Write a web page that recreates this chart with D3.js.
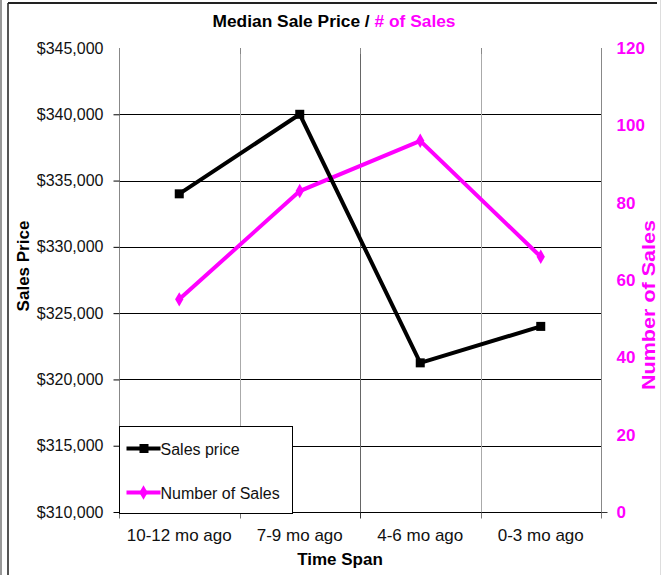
<!DOCTYPE html>
<html>
<head>
<meta charset="utf-8">
<script src="https://cdn.jsdelivr.net/npm/d3@7"></script>
<style>
  body { margin: 0; background: #fff; }
  svg { display: block; font-family: "Liberation Sans", Arial, sans-serif; }
</style>
</head>
<body>
<script>
const categories = ['10-12 mo ago', '7-9 mo ago', '4-6 mo ago', '0-3 mo ago'];
const salesPrice = [334000, 340000, 321250, 324000];
const numberOfSales = [55, 83, 96, 66];
const priceTicks = [310000, 315000, 320000, 325000, 330000, 335000, 340000, 345000];
const countTicks = [0, 20, 40, 60, 80, 100, 120];

const width = 662, height = 575;
const magenta = '#ff00ff';
const plot = { left: 119, right: 601, top: 48, bottom: 512 };

const svg = d3.select('body').append('svg')
  .attr('width', width)
  .attr('height', height);

// outer frame
svg.append('rect').attr('x', 0).attr('y', 0).attr('width', 2).attr('height', height).attr('fill', '#999');
svg.append('line').attr('x1', 8).attr('x2', 8).attr('y1', 3).attr('y2', height)
  .attr('stroke', '#555').attr('stroke-width', 2);
svg.append('line').attr('x1', 8).attr('x2', 657).attr('y1', 3).attr('y2', 3)
  .attr('stroke', '#222').attr('stroke-width', 2);
svg.append('line').attr('x1', 660.5).attr('x2', 660.5).attr('y1', 0).attr('y2', height)
  .attr('stroke', '#ddd').attr('stroke-width', 1);

const x = d3.scaleBand()
  .domain(categories)
  .range([plot.left, plot.right]);

const yPrice = d3.scaleLinear()
  .domain([310000, 345000])
  .range([plot.bottom, plot.top]);

const yCount = d3.scaleLinear()
  .domain([0, 120])
  .range([plot.bottom, plot.top]);

const xMid = d => x(d) + x.bandwidth() / 2;

// horizontal gridlines
svg.append('g')
  .selectAll('line')
  .data(priceTicks.filter(t => t > 310000 && t < 345000))
  .join('line')
  .attr('x1', plot.left).attr('x2', plot.right)
  .attr('y1', d => Math.round(yPrice(d)) + 0.5)
  .attr('y2', d => Math.round(yPrice(d)) + 0.5)
  .attr('stroke', '#000')
  .attr('stroke-width', 1);

// vertical gridlines between categories
svg.append('g')
  .selectAll('line')
  .data(categories.slice(1))
  .join('line')
  .attr('x1', d => Math.round(x(d)) + 0.5)
  .attr('x2', d => Math.round(x(d)) + 0.5)
  .attr('y1', plot.top).attr('y2', plot.bottom)
  .attr('stroke', (d, i) => i === 1 ? '#666' : '#aaa')
  .attr('stroke-width', 1);

// top ticks at category boundaries
svg.append('g')
  .selectAll('line')
  .data(categories.map(c => x(c)).concat([plot.right]))
  .join('line')
  .attr('x1', d => Math.round(d) + 0.5)
  .attr('x2', d => Math.round(d) + 0.5)
  .attr('y1', plot.top).attr('y2', plot.top + 6)
  .attr('stroke', '#888');

// left axis
const leftAxis = svg.append('g')
  .attr('transform', `translate(${plot.left + 0.5},0)`)
  .call(d3.axisLeft(yPrice)
    .tickValues(priceTicks)
    .tickSize(6)
    .tickPadding(10)
    .tickFormat(d => '$' + d3.format(',')(d)));
leftAxis.select('.domain').attr('stroke', '#888').attr('d', `M0,${plot.top}V${plot.bottom}`);
leftAxis.selectAll('.tick line').attr('stroke', '#000');
leftAxis.selectAll('.tick').filter(d => d === 345000).select('line').remove();
leftAxis.selectAll('text')
  .attr('font-size', 16)
  .attr('font-family', '"Liberation Sans", Arial, sans-serif')
  .attr('fill', '#111');

// right axis
const rightAxis = svg.append('g')
  .attr('transform', `translate(${plot.right + 0.5},0)`)
  .call(d3.axisRight(yCount)
    .tickValues(countTicks)
    .tickSize(0)
    .tickPadding(15));
rightAxis.select('.domain').attr('stroke', '#888').attr('d', `M0,${plot.top}V${plot.bottom + 4}`);
rightAxis.selectAll('text')
  .attr('font-size', 17)
  .attr('font-weight', 'bold')
  .attr('font-family', '"Liberation Sans", Arial, sans-serif')
  .attr('fill', magenta);
rightAxis.append('line')
  .attr('x1', -6).attr('x2', 6)
  .attr('y1', Math.round(yCount(0)) + 0.5).attr('y2', Math.round(yCount(0)) + 0.5)
  .attr('stroke', '#333');

// bottom axis
const bottomAxis = svg.append('g')
  .attr('transform', `translate(0,${plot.bottom + 0.5})`)
  .call(d3.axisBottom(x).tickSize(0).tickPadding(16));
bottomAxis.select('.domain').attr('stroke', '#000').attr('d', `M${plot.left},0H${plot.right}`);
bottomAxis.selectAll('text')
  .attr('font-size', 17)
  .attr('font-family', '"Liberation Sans", Arial, sans-serif')
  .attr('fill', '#111');
bottomAxis.append('g')
  .selectAll('line')
  .data(categories.map(c => x(c)).concat([plot.right]))
  .join('line')
  .attr('x1', d => Math.round(d) + 0.5)
  .attr('x2', d => Math.round(d) + 0.5)
  .attr('y1', 0).attr('y2', 6)
  .attr('stroke', (d, i) => i === 2 ? '#333' : '#777');

// series lines
const priceLine = d3.line()
  .x((d, i) => xMid(categories[i]))
  .y(d => yPrice(d));

const countLine = d3.line()
  .x((d, i) => xMid(categories[i]))
  .y(d => yCount(d));

svg.append('path')
  .datum(numberOfSales)
  .attr('d', countLine)
  .attr('fill', 'none')
  .attr('stroke', magenta)
  .attr('stroke-width', 4);

svg.append('g')
  .selectAll('path')
  .data(numberOfSales)
  .join('path')
  .attr('d', d3.symbol(d3.symbolDiamond, 60))
  .attr('transform', (d, i) => `translate(${xMid(categories[i])},${yCount(d)})`)
  .attr('fill', magenta);

svg.append('path')
  .datum(salesPrice)
  .attr('d', priceLine)
  .attr('fill', 'none')
  .attr('stroke', '#000')
  .attr('stroke-width', 4);

svg.append('g')
  .selectAll('rect')
  .data(salesPrice)
  .join('rect')
  .attr('x', (d, i) => xMid(categories[i]) - 4.5)
  .attr('y', d => yPrice(d) - 4.5)
  .attr('width', 9)
  .attr('height', 9)
  .attr('fill', '#000');

// legend
const legend = svg.append('g').attr('transform', 'translate(119.5,426.5)');
legend.append('rect')
  .attr('width', 173).attr('height', 87)
  .attr('fill', '#fff').attr('stroke', '#000');

const legendItems = [
  { label: 'Sales price', color: '#000', y: 22, marker: 'square' },
  { label: 'Number of Sales', color: magenta, y: 66, marker: 'diamond' }
];
legendItems.forEach(item => {
  const g = legend.append('g').attr('transform', `translate(0,${item.y})`);
  g.append('line')
    .attr('x1', 7).attr('x2', 41)
    .attr('stroke', item.color).attr('stroke-width', 4);
  if (item.marker === 'square') {
    g.append('rect').attr('x', 20).attr('y', -4.5).attr('width', 9).attr('height', 9).attr('fill', item.color);
  } else {
    g.append('path').attr('d', d3.symbol(d3.symbolDiamond, 60)).attr('transform', 'translate(24,0)').attr('fill', item.color);
  }
  g.append('text')
    .attr('x', 41).attr('y', 6)
    .attr('font-size', 16)
    .attr('fill', '#111')
    .text(item.label);
});

// titles
const title = svg.append('text')
  .attr('x', 334).attr('y', 27)
  .attr('text-anchor', 'middle')
  .attr('font-size', 16)
  .attr('font-weight', 'bold')
  .attr('textLength', 243)
  .attr('lengthAdjust', 'spacingAndGlyphs');
title.append('tspan').attr('fill', '#000').text('Median Sale Price / ');
title.append('tspan').attr('fill', magenta).text('# of Sales');

svg.append('text')
  .attr('transform', 'translate(29,266) rotate(-90)')
  .attr('text-anchor', 'middle')
  .attr('font-size', 17)
  .attr('font-weight', 'bold')
  .attr('fill', '#000')
  .text('Sales Price');

svg.append('text')
  .attr('transform', 'translate(655,305) rotate(-90)')
  .attr('text-anchor', 'middle')
  .attr('font-size', 19)
  .attr('font-weight', 'bold')
  .attr('fill', magenta)
  .attr('textLength', 170)
  .attr('lengthAdjust', 'spacingAndGlyphs')
  .text('Number of Sales');

svg.append('text')
  .attr('x', 340).attr('y', 565)
  .attr('text-anchor', 'middle')
  .attr('font-size', 17)
  .attr('font-weight', 'bold')
  .attr('fill', '#000')
  .text('Time Span');
</script>
</body>
</html>
